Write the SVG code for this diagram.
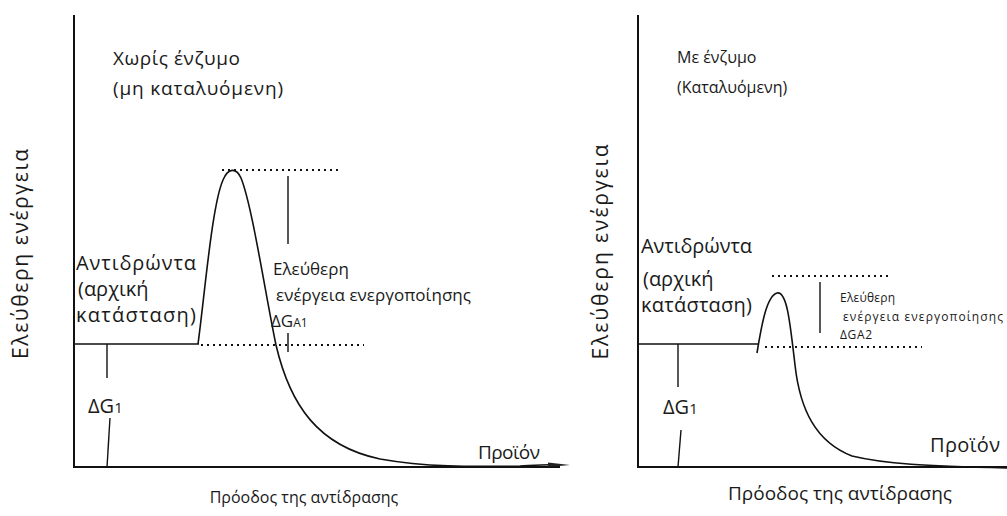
<svg xmlns="http://www.w3.org/2000/svg" width="1007" height="516" viewBox="0 0 1007 516">
  <style>
    text { font-family: "Open Sans", "Noto Sans", "DejaVu Sans", sans-serif; fill: #1a1a1a; }
    .lbl { font-size: 17px; }
    .big { font-size: 20px; }
    .ttl { font-size: 19px; }
    .ttl2 { font-size: 16px; }
    .yl { font-size: 21px; }
    .sm { font-size: 12px; }
    .axis { stroke: #111; stroke-width: 2; fill: none; }
    .line { stroke: #111; stroke-width: 1.4; fill: none; }
    .curve { stroke: #111; stroke-width: 1.6; fill: none; }
    .dots { stroke: #111; stroke-width: 2; stroke-dasharray: 2 4; fill: none; }
  </style>
  <rect width="1007" height="516" fill="#fff"/>

  <!-- Left panel: uncatalysed reaction -->
  <g id="left-axes">
    <line class="axis" x1="74" y1="15" x2="74" y2="467"/>
    <line class="axis" x1="73" y1="467" x2="560" y2="467"/>
    <text class="yl" transform="translate(28,254) rotate(-90)" text-anchor="middle" textLength="210">Ελεύθερη ενέργεια</text>
    <text class="ttl2" x="304" y="503" text-anchor="middle">Πρόοδος της αντίδρασης</text>
  </g>
  <g id="left-title">
    <text class="ttl" x="113" y="65" textLength="127">Χωρίς ένζυμο</text>
    <text class="ttl" x="113" y="95" textLength="170">(μη καταλυόμενη)</text>
  </g>
  <g id="left-curve">
    <line class="line" x1="74" y1="344" x2="199" y2="344"/>
    <path class="curve" d="M198,344 C205,292 212,205 223,180 C228,168 236,167 241,178 C252,205 265,292 276,345 C290,405 318,446 380,459 C425,467 470,467 520,466 C538,465 550,464 558,465"/>
    <path d="M548,462.5 L570,465 L548,467 Z" fill="#222"/>
  </g>
  <g id="left-reactants">
    <text class="big" x="76" y="270" textLength="120">Αντιδρώντα</text>
    <text class="big" x="78" y="296">(αρχική</text>
    <text class="big" x="76" y="322" textLength="120">κατάσταση)</text>
  </g>
  <g id="left-activation">
    <line class="dots" x1="222" y1="170" x2="342" y2="170"/>
    <line class="dots" x1="201" y1="345" x2="364" y2="345"/>
    <line class="line" x1="288" y1="176" x2="288" y2="244"/>
    <line class="line" x1="288" y1="333" x2="288" y2="352"/>
    <text class="lbl" x="273" y="275">Ελεύθερη</text>
    <text class="lbl" x="276" y="301" textLength="195">ενέργεια ενεργοποίησης</text>
    <text class="lbl" x="271" y="327">ΔG<tspan font-size="12">A1</tspan></text>
  </g>
  <g id="left-dg1">
    <line class="line" x1="107" y1="344" x2="107" y2="378"/>
    <line class="line" x1="110" y1="418" x2="107" y2="467"/>
    <text class="big" x="88" y="413">ΔG<tspan font-size="15">1</tspan></text>
  </g>
  <g id="left-product">
    <text class="ttl" x="478" y="459" textLength="62">Προϊόν</text>
  </g>

  <!-- Right panel: catalysed reaction -->
  <g id="right-axes">
    <line class="axis" x1="638" y1="15" x2="638" y2="467" stroke-width="1.6"/>
    <line class="axis" x1="637" y1="467" x2="1007" y2="467"/>
    <text class="yl" transform="translate(608,252) rotate(-90)" text-anchor="middle" textLength="215">Ελεύθερη ενέργεια</text>
    <text class="ttl" x="840" y="500" text-anchor="middle" textLength="224">Πρόοδος της αντίδρασης</text>
  </g>
  <g id="right-title">
    <text class="ttl2" x="677" y="63">Με ένζυμο</text>
    <text class="ttl2" x="677" y="93">(Καταλυόμενη)</text>
  </g>
  <g id="right-curve">
    <line class="line" x1="638" y1="344" x2="759" y2="344"/>
    <path class="curve" d="M757,353 C762,322 767,296 777,293 C787,291 790,322 795,365 C800,410 816,442 852,456 C885,464 925,466 1007,468"/>
  </g>
  <g id="right-reactants">
    <text class="big" x="641" y="253" textLength="111">Αντιδρώντα</text>
    <text class="big" x="643" y="286">(αρχική</text>
    <text class="big" x="641" y="312" textLength="111">κατάσταση)</text>
  </g>
  <g id="right-activation">
    <line class="dots" x1="772" y1="276" x2="890" y2="276"/>
    <line class="dots" x1="765" y1="347" x2="922" y2="347"/>
    <line class="line" x1="820" y1="282" x2="820" y2="333"/>
    <text class="sm" x="840" y="302" textLength="55">Ελεύθερη</text>
    <text class="sm" x="843" y="321" textLength="160">ενέργεια ενεργοποίησης</text>
    <text class="sm" x="840" y="339" textLength="32">ΔGA2</text>
  </g>
  <g id="right-dg1">
    <line class="line" x1="678" y1="344" x2="678" y2="387"/>
    <line class="line" x1="681" y1="430" x2="678" y2="467"/>
    <text class="big" x="663" y="414">ΔG<tspan font-size="15">1</tspan></text>
  </g>
  <g id="right-product">
    <text class="big" x="930" y="452" textLength="70">Προϊόν</text>
  </g>
</svg>
